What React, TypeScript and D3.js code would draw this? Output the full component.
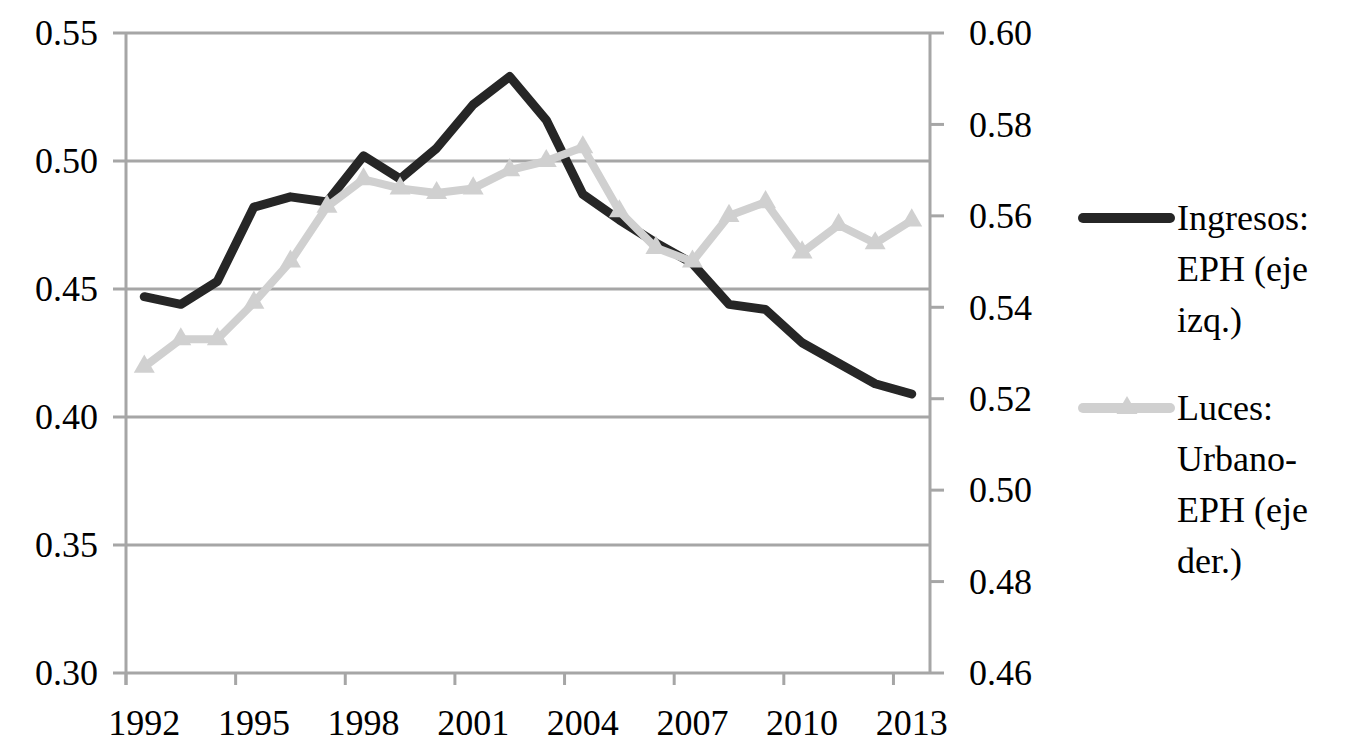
import * as d3 from 'd3';
import React from 'react';

// años (los puntos caen a mitad de año)
const years = d3.range(1992, 2014);
const ingresosEPH = [0.447, 0.444, 0.453, 0.482, 0.486, 0.484, 0.502, 0.493, 0.505, 0.522, 0.533, 0.516, 0.487, 0.477, 0.468, 0.460, 0.444, 0.442, 0.429, 0.421, 0.413, 0.409];
const lucesUrbano = [0.527, 0.533, 0.533, 0.541, 0.550, 0.562, 0.568, 0.566, 0.565, 0.566, 0.570, 0.572, 0.575, 0.561, 0.553, 0.550, 0.560, 0.563, 0.552, 0.558, 0.554, 0.559];
const leftTicks = [0.30, 0.35, 0.40, 0.45, 0.50, 0.55];
const rightTicks = [0.46, 0.48, 0.50, 0.52, 0.54, 0.56, 0.58, 0.60];
const yearTicks = [1992, 1995, 1998, 2001, 2004, 2007, 2010, 2013];
const legendA = ['Ingresos:', 'EPH (eje', 'izq.)'];
const legendB = ['Luces:', 'Urbano-', 'EPH (eje', 'der.)'];

const W = 1358, H = 754;
const margin = { left: 126, right: 430, top: 33, bottom: 81 };
const axisColor = '#a6a6a6';
const darkColor = '#262626';
const lightColor = '#d0d0d0';
const font = "'Liberation Serif', 'Times New Roman', serif";

export default function App() {
  const x = d3.scaleLinear().domain([1992, 2014]).range([margin.left, W - margin.right + 2]);
  const yL = d3.scaleLinear().domain([0.30, 0.55]).range([H - margin.bottom, margin.top]);
  const yR = d3.scaleLinear().domain([0.46, 0.60]).range([H - margin.bottom, margin.top]);

  const lineA = d3.line<number>().x((d, i) => x(years[i] + 0.5)).y(d => yL(d));
  const lineB = d3.line<number>().x((d, i) => x(years[i] + 0.5)).y(d => yR(d));
  const tri = d3.symbol().type(d3.symbolTriangle).size(190)();

  const x0 = x(1992), x1 = x(2014);
  const yBottom = yL(0.30);

  return (
    <svg width={W} height={H} style={{ position: 'absolute', left: 0, top: 0, background: '#fff', fontFamily: font, fontSize: 36 }}>
      {/* grid */}
      {leftTicks.map(t => (
        <g key={'l' + t}>
          <line x1={x0 - 13} x2={x1} y1={yL(t)} y2={yL(t)} stroke={axisColor} strokeWidth={3} />
          <text x={98} y={yL(t)} dy="0.34em" textAnchor="end">{t.toFixed(2)}</text>
        </g>
      ))}
      {/* right axis */}
      <line x1={x1} x2={x1} y1={yR(0.60)} y2={yBottom} stroke={axisColor} strokeWidth={3} />
      {rightTicks.map(t => (
        <g key={'r' + t}>
          <line x1={x1} x2={x1 + 14} y1={yR(t)} y2={yR(t)} stroke={axisColor} strokeWidth={3} />
          <text x={969} y={yR(t)} dy="0.34em">{t.toFixed(2)}</text>
        </g>
      ))}
      {/* left axis */}
      <line x1={x0} x2={x0} y1={yL(0.55)} y2={yBottom + 12} stroke={axisColor} strokeWidth={3} />
      {/* x axis */}
      {yearTicks.map(t => (
        <g key={'x' + t}>
          <line x1={x(t)} x2={x(t)} y1={yBottom} y2={yBottom + 12} stroke={axisColor} strokeWidth={3} />
          <text x={x(t + 0.5)} y={735} textAnchor="middle">{t}</text>
        </g>
      ))}

      {/* series */}
      <path d={lineA(ingresosEPH) || ''} fill="none" stroke={darkColor} strokeWidth={9}
        strokeLinejoin="round" strokeLinecap="round" />
      <path d={lineB(lucesUrbano) || ''} fill="none" stroke={lightColor} strokeWidth={8}
        strokeLinejoin="round" strokeLinecap="round" />
      {lucesUrbano.map((v, i) => (
        <path key={'m' + i} d={tri || ''} transform={`translate(${x(years[i] + 0.5)},${yR(v)})`} fill={lightColor} />
      ))}

      {/* legend */}
      <line x1={1083} x2={1170} y1={218} y2={218} stroke={darkColor} strokeWidth={10} strokeLinecap="round" />
      {legendA.map((s, i) => (
        <text key={'a' + i} x={1177} y={230 + i * 51}>{s}</text>
      ))}
      <line x1={1083} x2={1170} y1={408} y2={408} stroke={lightColor} strokeWidth={10} strokeLinecap="round" />
      <path d={tri || ''} transform="translate(1127,408)" fill={lightColor} />
      {legendB.map((s, i) => (
        <text key={'b' + i} x={1177} y={420 + i * 51}>{s}</text>
      ))}
    </svg>
  );
}
